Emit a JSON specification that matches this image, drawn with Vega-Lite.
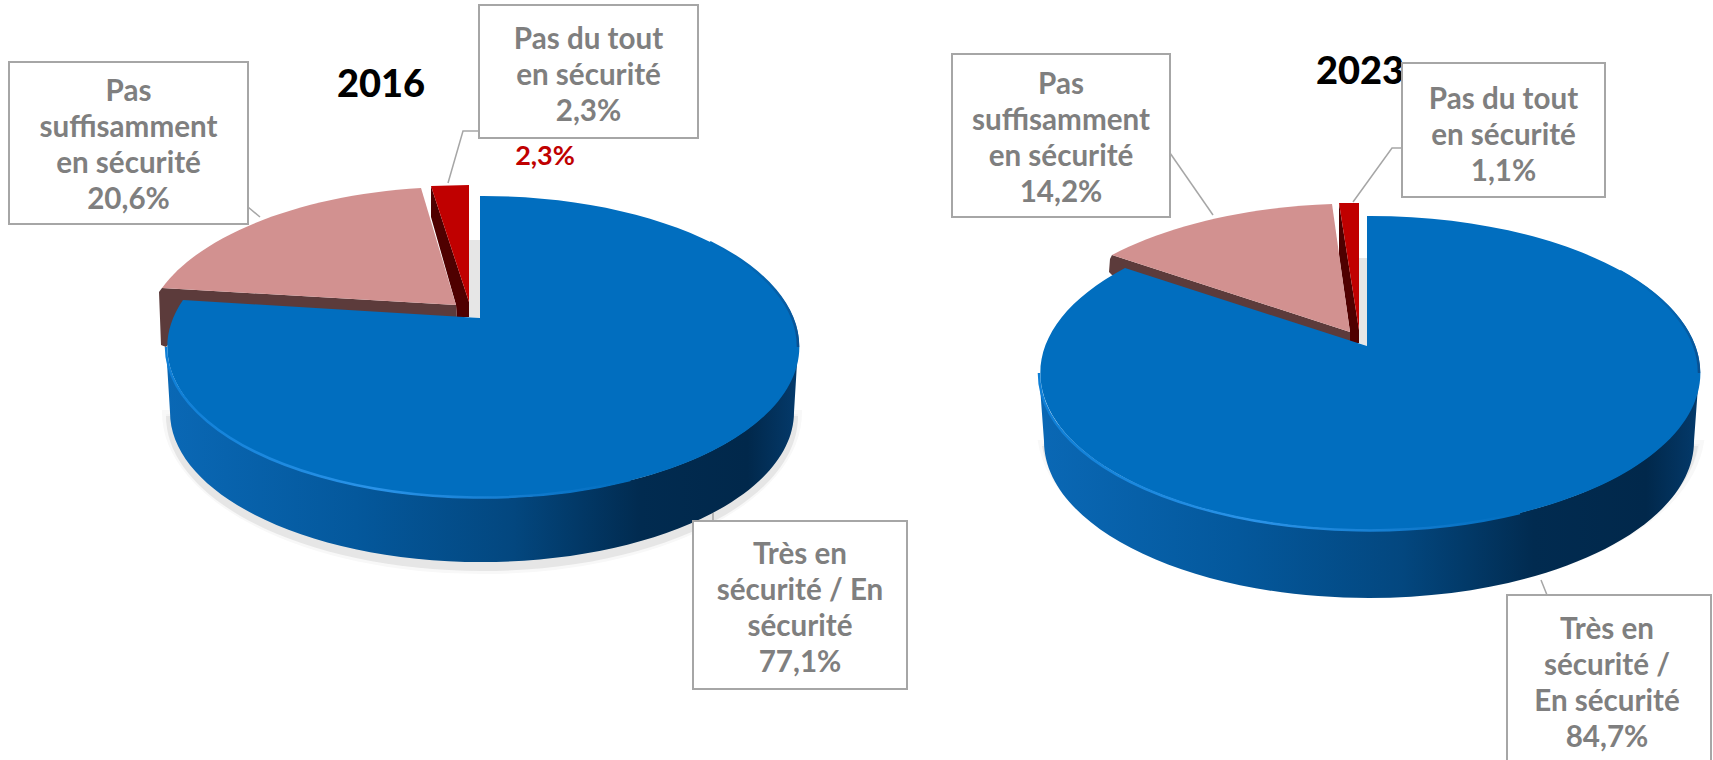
{
"$schema":"https://vega.github.io/schema/vega-lite/v6.json",
"width":1713,"height":760,"autosize":"none","padding":0,"background":"white",
"config":{"view":{"stroke":null},"point":{"size":4,"opacity":1,"filled":true,"strokeWidth":0},"text":{"font":"Lato","fontWeight":"bold","fontSize":29.6,"lineHeight":36,"lineBreak":"\n","align":"center","baseline":"middle","color":"#7F7F7F"}},
"data":{"values":[
{"id":"16T","annee":"2016","categorie":"Très en sécurité / En sécurité","valeur":77.1,"pct":"77,1%","etiquette":"Très en\nsécurité / En\nsécurité\n77,1%"},
{"id":"16S","annee":"2016","categorie":"Pas suffisamment en sécurité","valeur":20.6,"pct":"20,6%","etiquette":"Pas\nsuffisamment\nen sécurité\n20,6%"},
{"id":"16P","annee":"2016","categorie":"Pas du tout en sécurité","valeur":2.3,"pct":"2,3%","etiquette":"Pas du tout\nen sécurité\n2,3%"},
{"id":"23T","annee":"2023","categorie":"Très en sécurité / En sécurité","valeur":84.7,"pct":"84,7%","etiquette":"Très en\nsécurité /\nEn sécurité\n84,7%"},
{"id":"23S","annee":"2023","categorie":"Pas suffisamment en sécurité","valeur":14.2,"pct":"14,2%","etiquette":"Pas\nsuffisamment\nen sécurité\n14,2%"},
{"id":"23P","annee":"2023","categorie":"Pas du tout en sécurité","valeur":1.1,"pct":"1,1%","etiquette":"Pas du tout\nen sécurité\n1,1%"}
]},
"encoding":{
"x":{"field":"annee","type":"nominal","axis":null,"scale":{"type":"point","domain":["2016","2023"],"range":[480,1370],"padding":0}},
"y":{"field":"annee","type":"nominal","axis":null,"scale":{"type":"point","domain":["2016","2023"],"range":[350,380],"padding":0}}
},
"layer":[
{"transform":[{"filter":"datum.id=='16T'"}],"mark":{"type":"point","shape":"M-316,62 A318 160 0 0 0 320,62 Z","fill":"#F3F3F3","stroke":"#F8F8F8","strokeWidth":4}},
{"transform":[{"filter":"datum.id=='16T'"}],"mark":{"type":"point","shape":"M-314,66 A316 155 0 0 0 318,66 Z","fill":"#E6E6E6"}},
{"transform":[{"filter":"datum.id=='16T'"}],"mark":{"type":"point","shape":"M-314,-3 L-310,62 A312 150 0 0 0 314,62 L318,-3 A316 151 0 0 1 -314,-3 Z","fill":{"gradient":"linear","x1":0,"y1":0,"x2":1,"y2":0,"stops":[{"offset":0,"color":"#0A68B5"},{"offset":0.3,"color":"#04589C"},{"offset":0.55,"color":"#03477F"},{"offset":0.75,"color":"#012B50"},{"offset":0.92,"color":"#01284B"},{"offset":1,"color":"#043A6B"}]}}},
{"transform":[{"filter":"datum.id=='16S'"}],"mark":{"type":"point","shape":"M-321,-58 L-318,-62 L-24,-45 L-23,-32 L-290,-30 L-314,-3 L-319,-5 Z","fill":"#5C3B3B"}},
{"transform":[{"filter":"datum.id=='16P'"}],"mark":{"type":"point","shape":"M-49,-164 L-11,-48 L-11,-33 L-23,-33 L-24,-45 L-49,-133 Z","fill":"#4F0000"}},
{"transform":[{"filter":"datum.id=='16P'"}],"mark":{"type":"point","shape":"M-49,-164 L-11,-165 L-11,-48 Z","fill":"#C00000"}},
{"transform":[{"filter":"datum.id=='16S'"}],"mark":{"type":"point","shape":"M-318,-62 A316 151 0 0 1 -59,-162 L-24,-45 Z","fill":"#D29190"}},
{"transform":[{"filter":"datum.id=='16T'"}],"mark":{"type":"point","shape":"M-11,-110 L0,-110 L0,-32 L-11,-33 Z","fill":"#E6E6E6"}},
{"transform":[{"filter":"datum.id=='16T'"}],"mark":{"type":"point","shape":"M0,-32 L0,-154 A316 151 0 1 1 -297,-50 Z","fill":"#016EBF"}},
{"transform":[{"filter":"datum.id=='16T'"}],"mark":{"type":"point","shape":"M-314,-3 A316 151 0 0 0 150,130","filled":false,"strokeWidth":2.5,"stroke":{"gradient":"linear","x1":0,"y1":0,"x2":1,"y2":0,"stops":[{"offset":0,"color":"#0F7FD6"},{"offset":0.45,"color":"#2A93E8"},{"offset":0.8,"color":"#1079CC"},{"offset":1,"color":"#016EBF"}]}}},
{"transform":[{"filter":"datum.id=='16T'"}],"mark":{"type":"point","shape":"M230,-108 A316 151 0 0 1 318,-3","filled":false,"strokeWidth":2.5,"stroke":{"gradient":"linear","x1":0,"y1":0,"x2":0,"y2":1,"stops":[{"offset":0,"color":"#016EBF"},{"offset":1,"color":"#0A4F8F"}]}}},
{"transform":[{"filter":"datum.id=='23T'"}],"mark":{"type":"point","shape":"M-330,62 A332 167 0 0 0 332,62 Z","fill":"#F3F3F3","stroke":"#F8F8F8","strokeWidth":4}},
{"transform":[{"filter":"datum.id=='23T'"}],"mark":{"type":"point","shape":"M-328,66 A329 161 0 0 0 328,66 Z","fill":"#E6E6E6"}},
{"transform":[{"filter":"datum.id=='23T'"}],"mark":{"type":"point","shape":"M-331,-7 L-326,61 A325 157 0 0 0 324,61 L329,-7 A330 157 0 0 1 -331,-7 Z","fill":{"gradient":"linear","x1":0,"y1":0,"x2":1,"y2":0,"stops":[{"offset":0,"color":"#0A68B5"},{"offset":0.3,"color":"#04589C"},{"offset":0.55,"color":"#03477F"},{"offset":0.75,"color":"#012B50"},{"offset":0.92,"color":"#01284B"},{"offset":1,"color":"#043A6B"}]}}},
{"transform":[{"filter":"datum.id=='23S'"}],"mark":{"type":"point","shape":"M-260,-121 L-258,-125 L-20,-48 L-20,-37 L-240,-100 L-258,-105 L-261,-108 Z","fill":"#5C3B3B"}},
{"transform":[{"filter":"datum.id=='23P'"}],"mark":{"type":"point","shape":"M-31,-177 L-11,-50 L-11,-37 L-20,-37 L-20,-48 L-31,-125 Z","fill":"#4F0000"}},
{"transform":[{"filter":"datum.id=='23P'"}],"mark":{"type":"point","shape":"M-31,-177 L-11,-177 L-11,-50 Z","fill":"#C00000"}},
{"transform":[{"filter":"datum.id=='23S'"}],"mark":{"type":"point","shape":"M-258,-125 A330 157 0 0 1 -38,-176 L-20,-48 Z","fill":"#D29190"}},
{"transform":[{"filter":"datum.id=='23T'"}],"mark":{"type":"point","shape":"M-11,-122 L-3,-122 L-3,-34 L-11,-37 Z","fill":"#E6E6E6"}},
{"transform":[{"filter":"datum.id=='23T'"}],"mark":{"type":"point","shape":"M-3,-34 L-3,-164 A330 157 0 1 1 -245,-112 Z","fill":"#016EBF"}},
{"transform":[{"filter":"datum.id=='23T'"}],"mark":{"type":"point","shape":"M-331,-7 A330 157 0 0 0 150,133","filled":false,"strokeWidth":2.5,"stroke":{"gradient":"linear","x1":0,"y1":0,"x2":1,"y2":0,"stops":[{"offset":0,"color":"#0F7FD6"},{"offset":0.45,"color":"#2A93E8"},{"offset":0.8,"color":"#1079CC"},{"offset":1,"color":"#016EBF"}]}}},
{"transform":[{"filter":"datum.id=='23T'"}],"mark":{"type":"point","shape":"M250,-109 A330 157 0 0 1 329,-7","filled":false,"strokeWidth":2.5,"stroke":{"gradient":"linear","x1":0,"y1":0,"x2":0,"y2":1,"stops":[{"offset":0,"color":"#016EBF"},{"offset":1,"color":"#0A4F8F"}]}}},
{"transform":[{"filter":"datum.id=='16P'"}],"mark":{"type":"point","shape":"M-32,-167 L-17,-219 L-1,-219","filled":false,"stroke":"#A6A6A6","strokeWidth":1.5}},
{"transform":[{"filter":"datum.id=='16S'"}],"mark":{"type":"point","shape":"M-232,-143 L-220,-133","filled":false,"stroke":"#A6A6A6","strokeWidth":1.5}},
{"transform":[{"filter":"datum.id=='16T'"}],"mark":{"type":"point","shape":"M233,163 L233,171","filled":false,"stroke":"#A6A6A6","strokeWidth":1.5}},
{"transform":[{"filter":"datum.id=='23S'"}],"mark":{"type":"point","shape":"M-200,-227 L-157,-165","filled":false,"stroke":"#A6A6A6","strokeWidth":1.5}},
{"transform":[{"filter":"datum.id=='23P'"}],"mark":{"type":"point","shape":"M-17,-178 L22,-232 L32,-232","filled":false,"stroke":"#A6A6A6","strokeWidth":1.5}},
{"transform":[{"filter":"datum.id=='23T'"}],"mark":{"type":"point","shape":"M171,200 L177,215","filled":false,"stroke":"#A6A6A6","strokeWidth":1.5}},
{"transform":[{"filter":"datum.id=='16T'"}],"mark":{"type":"text","text":"2016","fontSize":38,"fontWeight":900,"color":"#000000","dx":-99,"dy":-264}},
{"transform":[{"filter":"datum.id=='23T'"}],"mark":{"type":"text","text":"2023","fontSize":38,"fontWeight":900,"color":"#000000","dx":-10,"dy":-307}},
{"transform":[{"filter":"datum.id=='16S'"}],"mark":{"type":"point","shape":"M-471,-288 L-232,-288 L-232,-126 L-471,-126 Z","fill":"#FFFFFF","stroke":"#A6A6A6","strokeWidth":2}},
{"transform":[{"filter":"datum.id=='16P'"}],"mark":{"type":"point","shape":"M-1,-345 L218,-345 L218,-212 L-1,-212 Z","fill":"#FFFFFF","stroke":"#A6A6A6","strokeWidth":2}},
{"transform":[{"filter":"datum.id=='16T'"}],"mark":{"type":"point","shape":"M213,171 L427,171 L427,339 L213,339 Z","fill":"#FFFFFF","stroke":"#A6A6A6","strokeWidth":2}},
{"transform":[{"filter":"datum.id=='23S'"}],"mark":{"type":"point","shape":"M-418,-326 L-200,-326 L-200,-163 L-418,-163 Z","fill":"#FFFFFF","stroke":"#A6A6A6","strokeWidth":2}},
{"transform":[{"filter":"datum.id=='23P'"}],"mark":{"type":"point","shape":"M32,-317 L235,-317 L235,-183 L32,-183 Z","fill":"#FFFFFF","stroke":"#A6A6A6","strokeWidth":2}},
{"transform":[{"filter":"datum.id=='23T'"}],"mark":{"type":"point","shape":"M137,215 L341,215 L341,390 L137,390 Z","fill":"#FFFFFF","stroke":"#A6A6A6","strokeWidth":2}},
{"transform":[{"filter":"datum.id=='16S'"}],"mark":{"type":"text","dx":-351.5,"dy":-258},"encoding":{"text":{"field":"etiquette"}}},
{"transform":[{"filter":"datum.id=='16P'"}],"mark":{"type":"text","dx":108.5,"dy":-310},"encoding":{"text":{"field":"etiquette"}}},
{"transform":[{"filter":"datum.id=='16T'"}],"mark":{"type":"text","dx":320,"dy":205},"encoding":{"text":{"field":"etiquette"}}},
{"transform":[{"filter":"datum.id=='23S'"}],"mark":{"type":"text","dx":-309,"dy":-295.5},"encoding":{"text":{"field":"etiquette"}}},
{"transform":[{"filter":"datum.id=='23P'"}],"mark":{"type":"text","dx":133.5,"dy":-280},"encoding":{"text":{"field":"etiquette"}}},
{"transform":[{"filter":"datum.id=='23T'"}],"mark":{"type":"text","dx":237,"dy":249.5},"encoding":{"text":{"field":"etiquette"}}},
{"transform":[{"filter":"datum.id=='16P'"}],"mark":{"type":"text","dx":65,"dy":-193,"fontSize":27,"color":"#C00000"},"encoding":{"text":{"field":"pct"}}}
]
}
